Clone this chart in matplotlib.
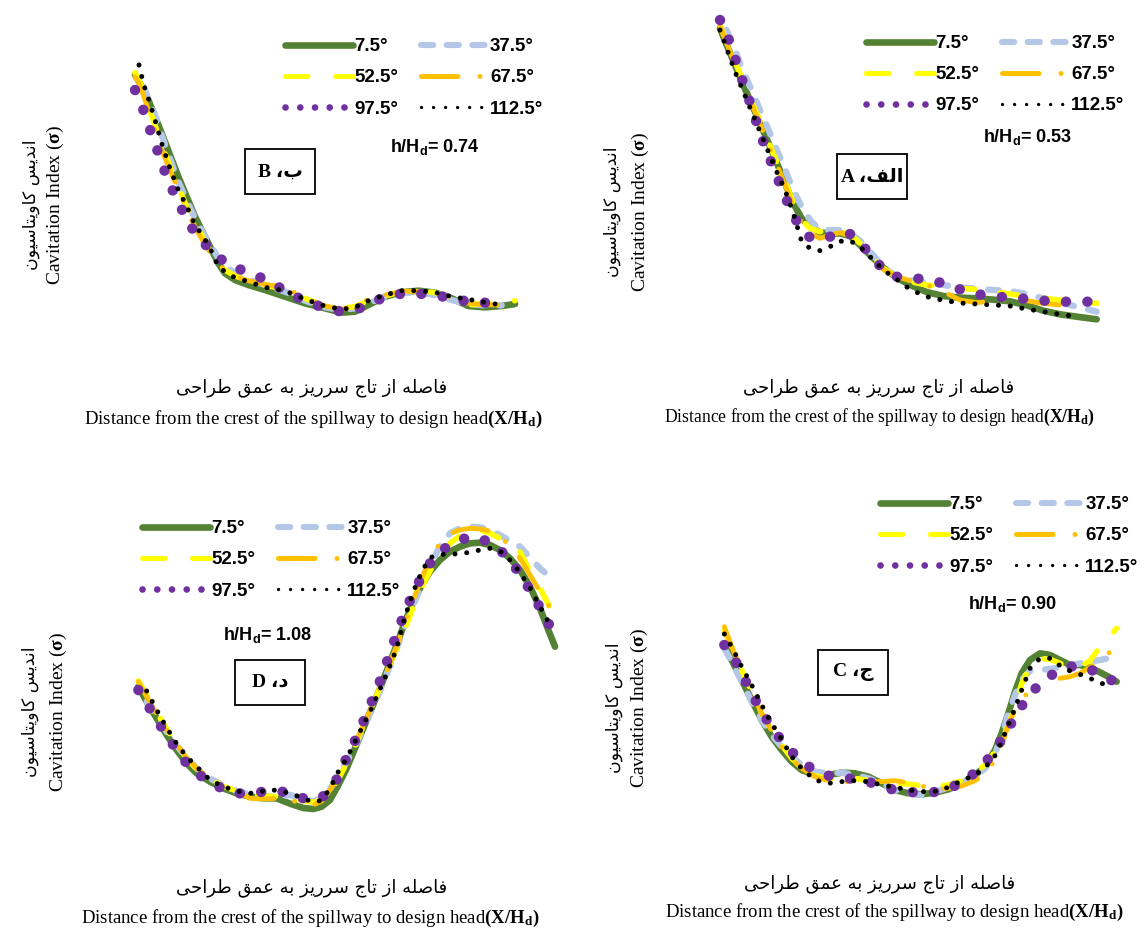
import numpy as np
import matplotlib
matplotlib.use("Agg")
import matplotlib.pyplot as plt
from matplotlib.lines import Line2D
from matplotlib.patches import Rectangle
from matplotlib import font_manager

installed = {f.name for f in font_manager.fontManager.ttflist}
NARROW = "Liberation Sans Narrow" if "Liberation Sans Narrow" in installed else "Liberation Sans"

plt.rcParams["mathtext.fontset"] = "custom"
plt.rcParams["mathtext.rm"] = "Liberation Serif"
plt.rcParams["mathtext.bf"] = "Liberation Serif:bold"
plt.rcParams["mathtext.sf"] = NARROW + ":bold"

# ---------------- data (X/Hd vs cavitation index, arbitrary units) ----------------
angles = ["7.5°", "37.5°", "52.5°", "67.5°", "97.5°", "112.5°"]

# panel B  h/Hd = 0.74
b_x = [0.30, 0.42, 0.55, 0.70, 0.90, 1.10, 1.35, 1.60, 1.85, 2.10, 2.35, 2.60, 2.80, 3.00, 3.30, 3.70,
       4.20, 4.80, 5.40, 6.00, 6.50, 6.90, 7.30, 7.80, 8.30, 8.80, 9.30, 9.80, 10.30, 10.80, 11.30, 11.70]
b_75 = [7.35, 7.15, 6.90, 6.60, 6.10, 5.60, 4.95, 4.30, 3.70, 3.10, 2.60, 2.10, 1.70, 1.40, 1.20, 1.05,
        0.90, 0.70, 0.50, 0.35, 0.22, 0.25, 0.45, 0.70, 0.83, 0.88, 0.82, 0.65, 0.42, 0.38, 0.42, 0.48]
b_375 = [None, None, 7.00, 6.65, 6.15, 5.55, 4.85, 4.15, 3.60, 3.05, 2.60, 2.20, 1.85, 1.60, 1.42, 1.22,
         1.05, 0.85, 0.58, 0.38, 0.30, 0.35, 0.50, 0.70, 0.82, 0.82, 0.75, 0.60, 0.48, 0.44, 0.44, None]
b_525 = [7.42, 7.20, 6.85, 6.40, 5.85, 5.25, 4.60, 4.00, 3.40, 2.90, 2.45, 2.00, 1.70, 1.50, 1.32, 1.20,
         1.05, 0.92, 0.65, 0.40, 0.35, 0.40, 0.58, 0.72, 0.85, 0.88, 0.82, 0.65, 0.45, 0.50, 0.53, 0.58]
b_675 = [7.30, 7.10, 6.75, 6.30, 5.70, 5.10, 4.50, 3.90, 3.32, 2.80, 2.35, 1.95, 1.70, 1.48, 1.30, 1.18,
         1.07, 0.98, 0.65, 0.42, 0.32, 0.42, 0.62, 0.75, 0.86, 0.86, 0.80, 0.62, 0.50, 0.46, 0.45, 0.45]
b_975 = [6.90, 6.60, 6.30, 5.85, 5.30, 4.70, 4.05, 3.55, 3.00, 2.62, 2.32, 2.08, 1.90, 1.72, 1.58, 1.42,
         1.22, 0.88, 0.56, 0.36, 0.25, 0.30, 0.46, 0.70, 0.79, 0.79, 0.75, 0.65, 0.55, 0.52, 0.52, None]
b_1125 = [None, 7.65, 7.10, 6.65, 6.00, 5.30, 4.55, 3.90, 3.42, 2.85, 2.50, 2.05, 1.60, 1.45, 1.27, 1.15,
          0.98, 0.88, 0.62, 0.42, 0.32, 0.38, 0.58, 0.75, 0.88, 0.88, 0.83, 0.70, 0.62, 0.53, 0.45, None]

# panel A  h/Hd = 0.53
a_x = [0.30, 0.50, 0.75, 1.00, 1.25, 1.50, 1.75, 2.00, 2.25, 2.50, 2.75, 3.00, 3.30, 3.60, 3.90, 4.20,
       4.50, 4.80, 5.20, 5.60, 6.00, 6.50, 7.00, 7.50, 8.00, 8.50, 9.00, 9.50, 10.00, 10.50, 11.00, 11.60]
a_75 = [9.05, 8.55, 7.95, 7.35, 6.78, 6.20, 5.62, 5.03, 4.40, 3.80, 3.35, 3.10, 2.93, 2.88, 2.90, 2.82,
        2.55, 2.25, 1.87, 1.57, 1.35, 1.14, 1.02, 0.97, 0.95, 0.91, 0.86, 0.74, 0.58, 0.47, 0.40, 0.32]
a_375 = [None, 9.00, 8.40, 7.75, 7.20, 6.60, 6.02, 5.42, 4.82, 4.20, 3.70, 3.30, 3.00, 3.00, 3.00, 2.90,
         2.68, 2.35, 1.90, 1.60, 1.50, 1.42, 1.35, 1.28, 1.24, 1.20, 1.17, 1.08, 0.95, 0.82, 0.70, 0.55]
a_525 = [9.15, 8.65, 8.05, 7.45, 6.85, 6.25, 5.65, 5.05, 4.45, 3.82, 3.30, 3.05, 2.95, 2.98, 2.98, 2.88,
         2.60, 2.25, 1.85, 1.60, 1.45, 1.35, 1.30, 1.25, 1.22, 1.15, 1.08, 1.00, 0.95, 0.90, 0.85, 0.80]
a_675 = [9.12, 8.60, 8.00, 7.38, 6.78, 6.18, 5.58, 4.97, 4.35, 3.70, 3.20, 2.90, 2.75, 2.85, 2.92, 2.82,
         2.55, 2.22, 1.82, 1.60, 1.48, 1.35, 1.15, 0.90, 0.82, 0.88, 0.92, 0.88, 0.80, 0.75, 0.72, None]
a_975 = [9.30, 8.90, 8.15, 7.40, 6.68, 5.90, 5.25, 4.62, 4.00, 3.45, 2.98, 2.78, 2.72, 2.80, 2.95, 2.88,
         2.65, 2.25, 1.82, 1.60, 1.56, 1.52, 1.40, 1.22, 1.08, 1.00, 0.98, 0.93, 0.88, 0.85, 0.85, 0.85]
a_1125 = [9.00, 8.45, 7.75, 7.15, 6.55, 5.95, 5.35, 4.75, 4.20, 3.50, 2.65, 2.45, 2.38, 2.50, 2.66, 2.68,
          2.50, 2.20, 1.80, 1.52, 1.22, 1.00, 0.89, 0.81, 0.78, 0.75, 0.72, 0.63, 0.55, 0.47, 0.40, None]

# panel D  h/Hd = 1.08
d_x = [0.25, 0.50, 0.80, 1.10, 1.40, 1.70, 2.00, 2.40, 2.80, 3.20, 3.60, 4.00, 4.40, 4.80, 5.20, 5.50,
       5.75, 6.00, 6.25, 6.50, 6.75, 7.00, 7.25, 7.50, 7.75, 8.00, 8.25, 8.50, 8.75, 9.00, 9.30, 9.60,
       9.90, 10.20, 10.50, 10.80, 11.10, 11.40, 11.70, 12.00, 12.30, 12.55, 12.75]
d_75 = [3.85, 3.40, 2.90, 2.40, 1.95, 1.55, 1.25, 1.00, 0.80, 0.65, 0.55, 0.50, 0.50, 0.34, 0.21, 0.18,
        0.25, 0.45, 0.90, 1.40, 2.00, 2.60, 3.20, 3.80, 4.45, 5.10, 5.80, 6.40, 6.90, 7.30, 7.65, 7.90,
        8.05, 8.15, 8.17, 8.10, 7.95, 7.70, 7.35, 6.85, 6.20, 5.55, 5.05]
d_375 = [None, 3.40, 2.95, 2.50, 2.08, 1.72, 1.40, 1.10, 0.88, 0.72, 0.62, 0.57, 0.55, 0.60, 0.50, 0.40,
         0.52, 0.78, 1.15, 1.60, 2.05, 2.60, 3.15, 3.72, 4.35, 5.00, 5.67, 6.30, 6.90, 7.50, 8.05, 8.45,
         8.60, 8.65, 8.63, 8.55, 8.40, 8.22, 8.05, 7.72, 7.40, 7.18, None]
d_525 = [4.02, 3.60, 3.08, 2.58, 2.10, 1.70, 1.38, 1.08, 0.86, 0.72, 0.62, 0.57, 0.55, 0.52, 0.43, 0.38,
         0.45, 0.70, 1.08, 1.55, 2.10, 2.67, 3.25, 3.83, 4.42, 5.00, 5.58, 6.25, 6.82, 7.32, 7.80, 8.15,
         8.38, 8.52, 8.55, 8.45, 8.30, 8.12, 7.90, 7.30, 6.80, 6.32, 5.95]
d_675 = [4.00, 3.55, 3.03, 2.55, 2.12, 1.72, 1.40, 1.10, 0.87, 0.70, 0.50, 0.48, 0.50, 0.43, 0.38, 0.30,
         0.42, 0.75, 1.17, 1.65, 2.15, 2.70, 3.25, 3.82, 4.42, 5.07, 5.75, 6.45, 7.10, 7.70, 8.15, 8.45,
         8.55, 8.60, 8.58, 8.52, 8.35, 8.08, 7.70, 7.20, 6.70, 6.30, 6.00]
d_975 = [3.75, 3.35, 2.85, 2.40, 1.94, 1.55, 1.25, 1.00, 0.77, 0.65, 0.64, 0.70, 0.72, 0.67, 0.50, 0.45,
         0.52, 0.75, 1.15, 1.72, 2.23, 2.80, 3.40, 4.02, 4.72, 5.43, 6.10, 6.67, 7.15, 7.55, 7.88, 8.12,
         8.25, 8.35, 8.30, 8.17, 7.95, 7.65, 7.22, 6.75, 6.22, 5.75, 5.45]
d_1125 = [None, 3.72, 3.15, 2.62, 2.14, 1.75, 1.45, 1.05, 0.85, 0.72, 0.65, 0.72, 0.75, 0.65, 0.50, 0.38,
          0.44, 0.80, 1.30, 1.70, 2.20, 2.70, 3.20, 3.78, 4.35, 5.00, 5.95, 6.70, 7.30, 7.72, 7.82, 7.82,
          7.84, 7.88, 7.95, 8.00, 7.92, 7.65, 7.27, 6.82, 6.25, 5.80, None]

# panel C  h/Hd = 0.90
c_x = [0.28, 0.50, 0.80, 1.10, 1.40, 1.70, 2.00, 2.30, 2.60, 3.00, 3.40, 3.80, 4.20, 4.60, 5.00, 5.40,
       5.80, 6.20, 6.60, 7.00, 7.40, 7.80, 8.10, 8.40, 8.60, 8.80, 9.00, 9.20, 9.45, 9.75, 10.05, 10.35,
       10.65, 10.95, 11.25, 11.55, 11.80, 12.05]
c_75 = [5.00, 4.50, 3.90, 3.30, 2.70, 2.20, 1.80, 1.45, 1.20, 1.05, 1.05, 1.12, 1.10, 1.00, 0.80, 0.60,
        0.50, 0.47, 0.52, 0.62, 0.78, 1.05, 1.30, 1.80, 2.30, 2.90, 3.55, 4.10, 4.50, 4.70, 4.65, 4.50,
        4.35, 4.35, 4.28, 4.13, 4.00, 3.85]
c_375 = [4.85, 4.45, 3.85, 3.25, 2.70, 2.25, 1.90, 1.60, 1.35, 1.15, 1.10, 1.12, 1.05, 0.95, 0.80, 0.60,
         0.50, 0.45, 0.55, 0.67, 0.80, 1.00, 1.25, 1.70, 2.20, 2.90, 3.45, 3.90, 4.18, 4.20, 4.23, 4.28,
         4.34, 4.40, 4.45, 4.50, 4.55, 4.60]
c_525 = [5.38, 4.90, 4.20, 3.55, 2.90, 2.40, 1.95, 1.55, 1.25, 1.02, 0.95, 0.95, 0.95, 0.88, 0.82, 0.80,
         0.78, 0.73, 0.70, 0.75, 0.88, 1.12, 1.35, 1.75, 2.10, 2.55, 3.10, 3.80, 4.30, 4.55, 4.52, 4.40,
         4.28, 4.30, 4.48, 4.90, 5.15, 5.45]
c_675 = [5.50, 4.90, 4.20, 3.52, 2.90, 2.38, 1.90, 1.52, 1.25, 1.00, 0.88, 0.85, 0.85, 0.85, 0.85, 0.88,
         0.82, 0.72, 0.62, 0.65, 0.72, 0.88, 1.10, 1.50, 1.95, 2.55, 3.00, 3.30, 3.60, None, None, 3.95,
         4.00, 4.10, 4.28, 4.50, 4.70, 4.88]
c_975 = [4.95, 4.70, 4.10, 3.50, 2.95, 2.48, 2.08, 1.75, 1.45, 1.18, 1.03, 0.98, 0.92, 0.85, 0.70, 0.60,
         0.54, 0.52, 0.54, 0.64, 0.82, 1.12, 1.42, 1.78, 2.13, 2.45, 2.80, 3.12, 3.48, 3.78, 4.02, 4.20,
         4.30, 4.32, 4.22, 4.08, 3.95, 3.80]
c_1125 = [5.28, 4.90, 4.30, 3.75, 3.15, 2.60, 2.12, 1.60, 1.25, 0.90, 0.80, 0.85, 0.88, 0.85, 0.75, 0.68,
          0.60, 0.55, 0.56, 0.68, 0.88, 1.05, 1.27, 1.63, 2.05, 2.55, 3.05, 3.60, 4.25, 4.55, 4.55, 4.33,
          4.17, 4.07, 3.95, 3.82, 3.72, None]

hd_labels = ["0.53", "0.74", "0.90", "1.08"]

# ---------------- Persian shaping (matplotlib has no RTL / joining) ----------------
FA_FORMS = {"ا": 0xFE8D, "د": 0xFEA9, "ر": 0xFEAD, "ز": 0xFEAF, "و": 0xFEED,
            "ب": 0xFE8F, "ت": 0xFE95, "ج": 0xFE9D, "ح": 0xFEA1, "س": 0xFEB1, "ص": 0xFEB9,
            "ط": 0xFEC1, "ع": 0xFEC9, "ف": 0xFED1, "ق": 0xFED5, "ل": 0xFEDD, "م": 0xFEE1,
            "ن": 0xFEE5, "ه": 0xFEE9, "ک": 0xFB8E, "ی": 0xFBFC}
FA_DUAL = set("بتجحسصطعفقلمنهکی")


def fa(s):
    out = []
    for i, ch in enumerate(s):
        if ch not in FA_FORMS:
            out.append(ch)
            continue
        prev = s[i - 1] if i > 0 else ""
        nxt = s[i + 1] if i + 1 < len(s) else ""
        jp = prev in FA_DUAL
        jn = ch in FA_DUAL and nxt in FA_FORMS
        base = FA_FORMS[ch]
        if jp and jn:
            out.append(chr(base + 3))
        elif jp:
            out.append(chr(base + 1))
        elif jn:
            out.append(chr(base + 2))
        else:
            out.append(chr(base))
    return "".join(reversed(out))


fa_ylabel = fa("اندیس کاویتاسیون")
fa_xlabel = fa("فاصله از تاج سرریز به عمق طراحی")
en_ylabel = r"Cavitation Index ($\mathbf{\sigma}$)"
en_xlabel = r"Distance from the crest of the spillway to design head$\mathbf{(X/H_d)}$"

# ---------------- styles ----------------
colors = ["#548235", "#B4C7E7", "#FFFF00", "#FFC000", "#7030A0", "#000000"]
widths = [4.8, 4.6, 4.0, 3.5, 7.5, 3.6]
dashes = [None, (1.7, 2.3), (3.2, 4.6), (7.3, 4.3, 0.01, 4.3), (0.01, 2.05), (0.01, 2.35)]
leg_widths = [4.8, 4.4, 3.6, 3.6, 4.8, 2.4]
leg_dashes = [None, (2.0, 2.2), (4.5, 5.5), (7.3, 4.4, 0.01, 8.0), (0.01, 2.2), (0.01, 3.6)]

W, H = 1143, 930
fig = plt.figure(figsize=(W / 100, H / 100), dpi=100)


def fx(px):
    return px / W


def fy(py):
    return 1 - py / H


panels = [
    # x, series, axes box (left, top, w, h px), xmax, ymax, legend (x, top), hd (x, y), box centre,
    # letter, persian letter, ylabel x's, ylabel y, xlabel x's, xlabel y's, english size
    (a_x, [a_75, a_375, a_525, a_675, a_975, a_1125], (710, 10, 400, 320), 12.0, 9.6,
     (866, 35), (983, 137), (872, 177), "A", "الف،", (612, 640), 212, (879, 880), (388, 417), 12.7),
    (b_x, [b_75, b_375, b_525, b_675, b_975, b_1125], (125, 50, 400, 270), 12.0, 8.1,
     (285, 38), (390, 147), (280, 172), "B", "ب،", (31, 55), 205, (312, 313), (388, 419), 13.5),
    (c_x, [c_75, c_375, c_525, c_675, c_975, c_1125], (715, 610, 420, 200), 12.6, 6.0,
     (880, 496), (968, 604), (853, 672), "C", "ج،", (614, 639), 708, (880, 894), (884, 912), 13.5),
    (d_x, [d_75, d_375, d_525, d_675, d_975, d_1125], (130, 515, 430, 300), 12.9, 9.0,
     (142, 520), (223, 635), (270, 682), "D", "د،", (30, 58), 712, (312, 310), (888, 918), 13.5),
]

order = [0, 2, 4, 1, 3, 5]  # legend fills column by column

for (xs, series, box, xmax, ymax, leg_pos, hd_pos, box_c, letter, fa_letter,
     ylx, yly, xlx, xly, en_size), hd in zip(panels, hd_labels):
    left, top, w, h = box
    ax = fig.add_axes([fx(left), fy(top + h), w / W, h / H])
    ax.set_xlim(0, xmax)
    ax.set_ylim(0, ymax)
    ax.axis("off")
    x = np.array(xs, dtype=float)
    for k, ys in enumerate(series):
        y = np.array(ys, dtype=float)
        ln, = ax.plot(x, y, color=colors[k], lw=widths[k], clip_on=False,
                      solid_capstyle="round", dash_capstyle="round", solid_joinstyle="round")
        if dashes[k] is not None:
            ln.set_dashes(dashes[k])

    handles = []
    for k in range(6):
        hl = Line2D([], [], color=colors[k], lw=leg_widths[k],
                    solid_capstyle="round", dash_capstyle="round")
        if leg_dashes[k] is not None:
            hl.set_dashes(leg_dashes[k])
        handles.append(hl)
    ax.legend([handles[i] for i in order], [angles[i] for i in order], ncol=2,
              loc="upper left", bbox_to_anchor=(fx(leg_pos[0]), fy(leg_pos[1])),
              bbox_transform=fig.transFigure, frameon=False, handlelength=3.6,
              handletextpad=0.1, columnspacing=1.2, labelspacing=0.75,
              borderpad=0, borderaxespad=0,
              prop={"family": NARROW, "weight": "bold", "size": 13.5})

    fig.text(fx(hd_pos[0]), fy(hd_pos[1]), r"h/H$_\mathsf{d}$= " + hd, family=NARROW,
             weight="bold", fontsize=13, ha="left", va="center")

    bw, bh = 70, 45
    fig.patches.append(Rectangle((fx(box_c[0] - bw / 2), fy(box_c[1] + bh / 2)), bw / W, bh / H,
                                 transform=fig.transFigure, fill=False, lw=1.3, ec="black"))
    fig.text(fx(box_c[0]), fy(box_c[1]), letter + " " + fa(fa_letter),
             family=["Liberation Serif", "DejaVu Sans"], weight="bold", fontsize=14,
             ha="center", va="center")

    fig.text(fx(ylx[0]), fy(yly), fa_ylabel, family="DejaVu Sans", fontsize=12.5,
             rotation=90, ha="center", va="center")
    fig.text(fx(ylx[1]), fy(yly), en_ylabel, family="Liberation Serif", fontsize=14,
             rotation=90, ha="center", va="center")
    fig.text(fx(xlx[0]), fy(xly[0]), fa_xlabel, family="DejaVu Sans", fontsize=13,
             ha="center", va="center")
    fig.text(fx(xlx[1]), fy(xly[1]), en_xlabel, family="Liberation Serif", fontsize=en_size,
             ha="center", va="center")

fig.savefig("out.png", dpi=100, facecolor="white")
